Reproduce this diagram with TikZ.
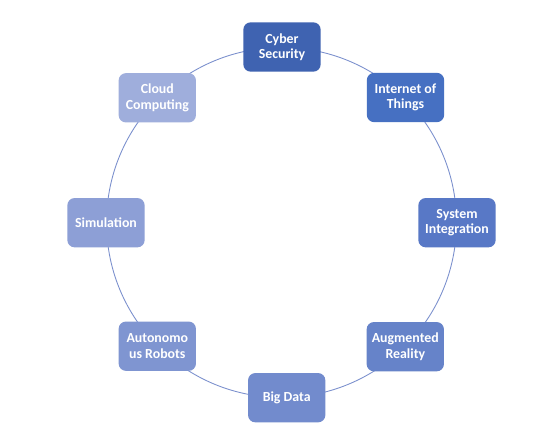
\documentclass[tikz,border=0pt]{standalone}
\usepackage{fontspec}
\setmainfont{Carlito}
\definecolor{cA}{HTML}{3F63B1}
\definecolor{cB}{HTML}{4670C2}
\definecolor{cC}{HTML}{5878C6}
\definecolor{cD}{HTML}{6683C9}
\definecolor{cE}{HTML}{728BCD}
\definecolor{cF}{HTML}{7F95D1}
\definecolor{cG}{HTML}{8D9FD6}
\definecolor{cH}{HTML}{9FAEDC}
\definecolor{ringc}{HTML}{7A8FCD}
\tikzset{
  boxnode/.style={rounded corners=5.5pt, minimum width=58pt, minimum height=37pt,
    inner sep=0pt, align=center, text=white,
    font=\fontsize{10.4}{11.6}\selectfont\bfseries},
  ring/.style={draw=ringc, line width=0.65pt}
}
\begin{document}
\begin{tikzpicture}[x=0.75pt,y=-0.75pt]
\useasboundingbox (0,0) rectangle (559,442);
\fill[white] (0,0) rectangle (559,442);
\coordinate (ctr) at (281.5,222.5);
\draw[ring] (ctr) circle[radius=131.25pt];
\node[boxnode, fill=cA] (cyber) at (282,47) {Cyber\\Security};
\node[boxnode, fill=cB] (iot) at (405.5,97.5) {Internet of\\Things};
\node[boxnode, fill=cC] (sysint) at (457,222.7) {System\\Integration};
\node[boxnode, fill=cD] (ar) at (405.3,346.7) {Augmented\\Reality};
\node[boxnode, fill=cE] (bigdata) at (286.7,397.7) {Big Data};
\node[boxnode, fill=cF] (robots) at (157.3,346.2) {Autonomo\\us Robots};
\node[boxnode, fill=cG] (sim) at (106,222.7) {Simulation};
\node[boxnode, fill=cH] (cloud) at (157.3,97.8) {Cloud\\Computing};
\end{tikzpicture}
\end{document}
